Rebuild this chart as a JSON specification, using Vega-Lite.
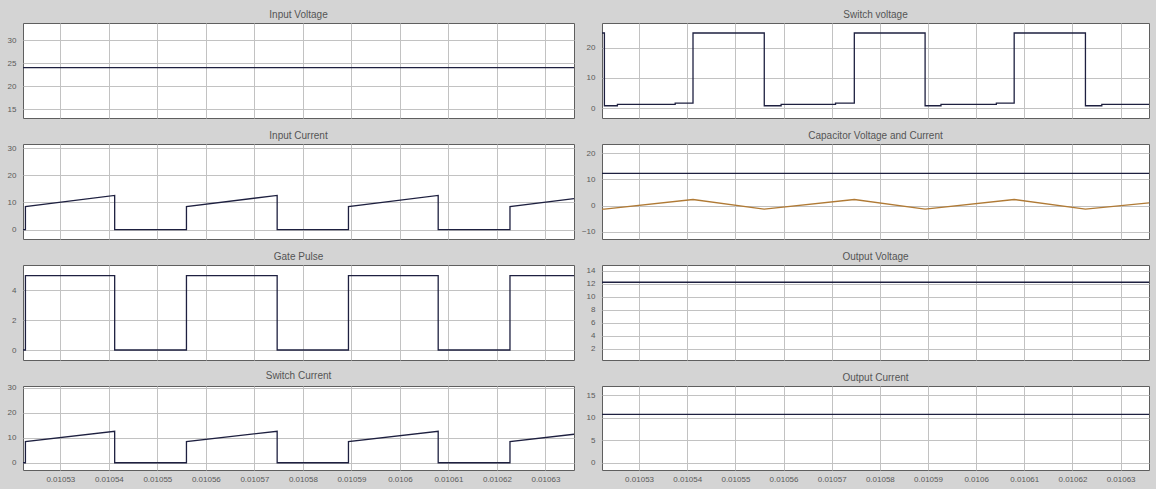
{
  "$schema": "https://vega.github.io/schema/vega-lite/v6.json",
  "background": "#d4d4d4",
  "padding": {"left": 6, "top": 9, "right": 7, "bottom": 6},
  "datasets": {
    "vin": [{"i":0,"t":0.0105223,"v":24.05},{"i":1,"t":0.0106359,"v":24.05}],
    "vsw": [
      {"i":0,"t":0.0105223,"v":24.8},{"i":1,"t":0.0105228,"v":24.8},{"i":2,"t":0.0105228,"v":0.75},{"i":3,"t":0.0105255,"v":0.75},
      {"i":4,"t":0.0105255,"v":1.2},{"i":5,"t":0.0105375,"v":1.2},{"i":6,"t":0.0105375,"v":1.6},{"i":7,"t":0.0105412,"v":1.6},
      {"i":8,"t":0.0105412,"v":24.8},{"i":9,"t":0.010556,"v":24.8},{"i":10,"t":0.010556,"v":0.75},{"i":11,"t":0.0105595,"v":0.75},
      {"i":12,"t":0.0105595,"v":1.2},{"i":13,"t":0.0105708,"v":1.2},{"i":14,"t":0.0105708,"v":1.6},{"i":15,"t":0.0105747,"v":1.6},
      {"i":16,"t":0.0105747,"v":24.8},{"i":17,"t":0.0105894,"v":24.8},{"i":18,"t":0.0105894,"v":0.75},{"i":19,"t":0.0105927,"v":0.75},
      {"i":20,"t":0.0105927,"v":1.2},{"i":21,"t":0.0106042,"v":1.2},{"i":22,"t":0.0106042,"v":1.6},{"i":23,"t":0.0106079,"v":1.6},
      {"i":24,"t":0.0106079,"v":24.8},{"i":25,"t":0.0106227,"v":24.8},{"i":26,"t":0.0106227,"v":0.75},{"i":27,"t":0.0106261,"v":0.75},
      {"i":28,"t":0.0106261,"v":1.2},{"i":29,"t":0.0106359,"v":1.2}
    ],
    "iin": [
      {"i":0,"t":0.0105223,"v":0},{"i":1,"t":0.0105228,"v":0},{"i":2,"t":0.0105228,"v":8.5},{"i":3,"t":0.0105412,"v":12.6},
      {"i":4,"t":0.0105412,"v":0},{"i":5,"t":0.010556,"v":0},{"i":6,"t":0.010556,"v":8.5},{"i":7,"t":0.0105747,"v":12.6},
      {"i":8,"t":0.0105747,"v":0},{"i":9,"t":0.0105894,"v":0},{"i":10,"t":0.0105894,"v":8.5},{"i":11,"t":0.0106079,"v":12.6},
      {"i":12,"t":0.0106079,"v":0},{"i":13,"t":0.0106227,"v":0},{"i":14,"t":0.0106227,"v":8.5},{"i":15,"t":0.0106359,"v":11.4}
    ],
    "isw": [
      {"i":0,"t":0.0105223,"v":0},{"i":1,"t":0.0105228,"v":0},{"i":2,"t":0.0105228,"v":8.5},{"i":3,"t":0.0105412,"v":12.6},
      {"i":4,"t":0.0105412,"v":0},{"i":5,"t":0.010556,"v":0},{"i":6,"t":0.010556,"v":8.5},{"i":7,"t":0.0105747,"v":12.6},
      {"i":8,"t":0.0105747,"v":0},{"i":9,"t":0.0105894,"v":0},{"i":10,"t":0.0105894,"v":8.5},{"i":11,"t":0.0106079,"v":12.6},
      {"i":12,"t":0.0106079,"v":0},{"i":13,"t":0.0106227,"v":0},{"i":14,"t":0.0106227,"v":8.5},{"i":15,"t":0.0106359,"v":11.4}
    ],
    "gate": [
      {"i":0,"t":0.0105223,"v":0},{"i":1,"t":0.0105228,"v":0},{"i":2,"t":0.0105228,"v":5},{"i":3,"t":0.0105412,"v":5},
      {"i":4,"t":0.0105412,"v":0},{"i":5,"t":0.010556,"v":0},{"i":6,"t":0.010556,"v":5},{"i":7,"t":0.0105747,"v":5},
      {"i":8,"t":0.0105747,"v":0},{"i":9,"t":0.0105894,"v":0},{"i":10,"t":0.0105894,"v":5},{"i":11,"t":0.0106079,"v":5},
      {"i":12,"t":0.0106079,"v":0},{"i":13,"t":0.0106227,"v":0},{"i":14,"t":0.0106227,"v":5},{"i":15,"t":0.0106359,"v":5}
    ],
    "cap": [
      {"s":"Voltage","i":0,"t":0.0105223,"v":12.3},{"s":"Voltage","i":1,"t":0.0106359,"v":12.3},
      {"s":"Current","i":0,"t":0.0105223,"v":-1.4},{"s":"Current","i":1,"t":0.0105228,"v":-1.4},{"s":"Current","i":2,"t":0.0105412,"v":2.3},
      {"s":"Current","i":3,"t":0.010556,"v":-1.4},{"s":"Current","i":4,"t":0.0105747,"v":2.3},{"s":"Current","i":5,"t":0.0105894,"v":-1.4},
      {"s":"Current","i":6,"t":0.0106079,"v":2.3},{"s":"Current","i":7,"t":0.0106227,"v":-1.4},{"s":"Current","i":8,"t":0.0106359,"v":1.0}
    ],
    "vout": [{"i":0,"t":0.0105223,"v":12.25},{"i":1,"t":0.0106359,"v":12.25}],
    "iout": [{"i":0,"t":0.0105223,"v":10.7},{"i":1,"t":0.0106359,"v":10.7}]
  },
  "columns": 2,
  "spacing": {"row": 26, "column": 28},
  "bounds": "flush",
  "concat": [
    {
      "title": "Input Voltage", "width": 551, "height": 95, "data": {"name": "vin"},
      "mark": {"type": "line", "color": "#1e2040", "strokeWidth": 1.3, "clip": true},
      "encoding": {
        "x": {"field": "t", "type": "quantitative", "scale": {"domain": [0.0105223, 0.0106359], "nice": false, "zero": false}, "axis": {"title": null, "labels": false, "values": [0.01053,0.01054,0.01055,0.01056,0.01057,0.01058,0.01059,0.0106,0.01061,0.01062,0.01063]}},
        "y": {"field": "v", "type": "quantitative", "scale": {"domain": [13.05, 33.8], "nice": false, "zero": false}, "axis": {"title": null, "values": [15,20,25,30]}},
        "order": {"field": "i"}
      }
    },
    {
      "title": "Switch voltage", "width": 547, "height": 95, "data": {"name": "vsw"},
      "mark": {"type": "line", "color": "#1e2040", "strokeWidth": 1.3, "clip": true},
      "encoding": {
        "x": {"field": "t", "type": "quantitative", "scale": {"domain": [0.0105223, 0.0106359], "nice": false, "zero": false}, "axis": {"title": null, "labels": false, "values": [0.01053,0.01054,0.01055,0.01056,0.01057,0.01058,0.01059,0.0106,0.01061,0.01062,0.01063]}},
        "y": {"field": "v", "type": "quantitative", "scale": {"domain": [-3.3, 28.1], "nice": false, "zero": false}, "axis": {"title": null, "values": [0,10,20]}},
        "order": {"field": "i"}
      }
    },
    {
      "title": "Input Current", "width": 551, "height": 95, "data": {"name": "iin"},
      "mark": {"type": "line", "color": "#1e2040", "strokeWidth": 1.3, "clip": true},
      "encoding": {
        "x": {"field": "t", "type": "quantitative", "scale": {"domain": [0.0105223, 0.0106359], "nice": false, "zero": false}, "axis": {"title": null, "labels": false, "values": [0.01053,0.01054,0.01055,0.01056,0.01057,0.01058,0.01059,0.0106,0.01061,0.01062,0.01063]}},
        "y": {"field": "v", "type": "quantitative", "scale": {"domain": [-3.5, 31.6], "nice": false, "zero": false}, "axis": {"title": null, "values": [0,10,20,30]}},
        "order": {"field": "i"}
      }
    },
    {
      "title": "Capacitor Voltage and Current", "width": 547, "height": 95, "data": {"name": "cap"},
      "mark": {"type": "line", "strokeWidth": 1.3, "clip": true},
      "encoding": {
        "x": {"field": "t", "type": "quantitative", "scale": {"domain": [0.0105223, 0.0106359], "nice": false, "zero": false}, "axis": {"title": null, "labels": false, "values": [0.01053,0.01054,0.01055,0.01056,0.01057,0.01058,0.01059,0.0106,0.01061,0.01062,0.01063]}},
        "y": {"field": "v", "type": "quantitative", "scale": {"domain": [-12.8, 23.5], "nice": false, "zero": false}, "axis": {"title": null, "values": [-10,0,10,20]}},
        "color": {"field": "s", "type": "nominal", "scale": {"domain": ["Voltage", "Current"], "range": ["#1e2040", "#b07a35"]}, "legend": null},
        "order": {"field": "i"}
      }
    },
    {
      "title": "Gate Pulse", "width": 551, "height": 95, "data": {"name": "gate"},
      "mark": {"type": "line", "color": "#1e2040", "strokeWidth": 1.3, "clip": true},
      "encoding": {
        "x": {"field": "t", "type": "quantitative", "scale": {"domain": [0.0105223, 0.0106359], "nice": false, "zero": false}, "axis": {"title": null, "labels": false, "values": [0.01053,0.01054,0.01055,0.01056,0.01057,0.01058,0.01059,0.0106,0.01061,0.01062,0.01063]}},
        "y": {"field": "v", "type": "quantitative", "scale": {"domain": [-0.67, 5.71], "nice": false, "zero": false}, "axis": {"title": null, "values": [0,2,4]}},
        "order": {"field": "i"}
      }
    },
    {
      "title": "Output Voltage", "width": 547, "height": 95, "data": {"name": "vout"},
      "mark": {"type": "line", "color": "#1e2040", "strokeWidth": 1.3, "clip": true},
      "encoding": {
        "x": {"field": "t", "type": "quantitative", "scale": {"domain": [0.0105223, 0.0106359], "nice": false, "zero": false}, "axis": {"title": null, "labels": false, "values": [0.01053,0.01054,0.01055,0.01056,0.01057,0.01058,0.01059,0.0106,0.01061,0.01062,0.01063]}},
        "y": {"field": "v", "type": "quantitative", "scale": {"domain": [0.3, 14.9], "nice": false, "zero": false}, "axis": {"title": null, "values": [2,4,6,8,10,12,14]}},
        "order": {"field": "i"}
      }
    },
    {
      "title": "Switch Current", "width": 551, "height": 84, "data": {"name": "isw"},
      "mark": {"type": "line", "color": "#1e2040", "strokeWidth": 1.3, "clip": true},
      "encoding": {
        "x": {"field": "t", "type": "quantitative", "scale": {"domain": [0.0105223, 0.0106359], "nice": false, "zero": false}, "axis": {"title": null, "format": ".5~f", "values": [0.01053,0.01054,0.01055,0.01056,0.01057,0.01058,0.01059,0.0106,0.01061,0.01062,0.01063]}},
        "y": {"field": "v", "type": "quantitative", "scale": {"domain": [-2.9, 30.7], "nice": false, "zero": false}, "axis": {"title": null, "values": [0,10,20,30]}},
        "order": {"field": "i"}
      }
    },
    {
      "title": "Output Current", "width": 547, "height": 84, "data": {"name": "iout"},
      "mark": {"type": "line", "color": "#1e2040", "strokeWidth": 1.3, "clip": true},
      "encoding": {
        "x": {"field": "t", "type": "quantitative", "scale": {"domain": [0.0105223, 0.0106359], "nice": false, "zero": false}, "axis": {"title": null, "format": ".5~f", "values": [0.01053,0.01054,0.01055,0.01056,0.01057,0.01058,0.01059,0.0106,0.01061,0.01062,0.01063]}},
        "y": {"field": "v", "type": "quantitative", "scale": {"domain": [-1.6, 17], "nice": false, "zero": false}, "axis": {"title": null, "values": [0,5,10,15]}},
        "order": {"field": "i"}
      }
    }
  ],
  "config": {
    "view": {"stroke": "#5f5f5f", "strokeWidth": 1, "fill": "white"},
    "axis": {"grid": true, "gridColor": "#c2c2c2", "gridOpacity": 1, "gridWidth": 1, "domain": false, "ticks": false, "labelFont": "Liberation Sans", "labelFontSize": 8, "labelColor": "#5a5a5a", "labelPadding": 7, "labelFlush": false, "labelOverlap": false},
    "axisX": {"labelPadding": 5},
    "title": {"font": "Liberation Sans", "fontSize": 10, "fontWeight": "normal", "color": "#555555", "offset": 3, "anchor": "middle"}
  }
}
